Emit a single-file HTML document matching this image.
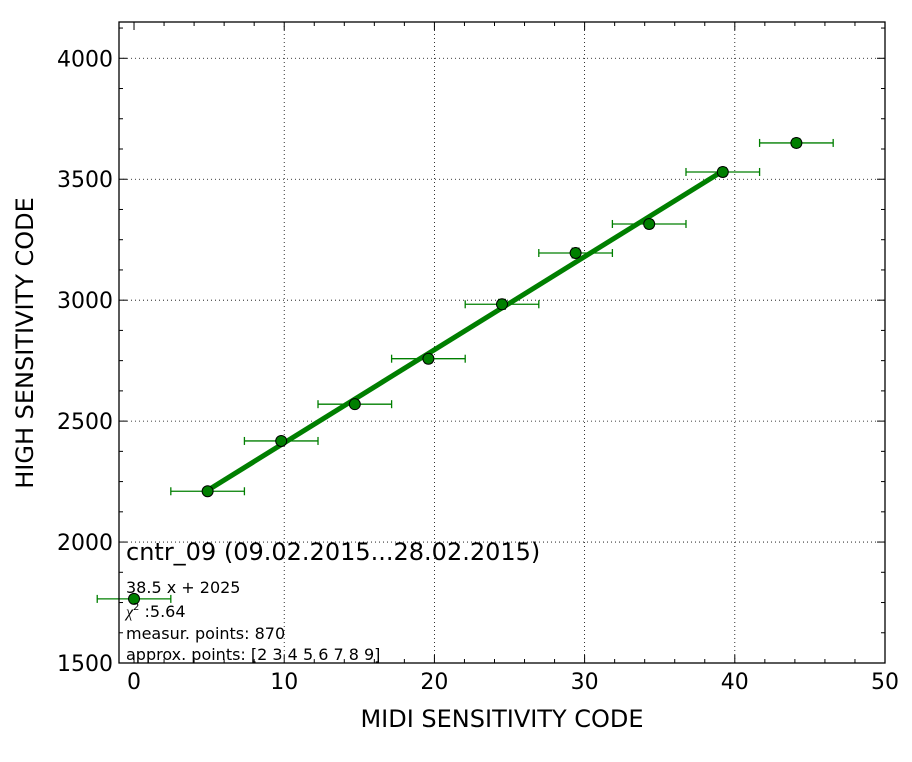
<!DOCTYPE html>
<html><head><meta charset="utf-8"><style>
body{margin:0;background:#fff;}
svg{display:block;font-family:"DejaVu Sans","Liberation Sans",sans-serif;}
</style></head><body>
<svg id="chart" width="912" height="762"></svg>
<script>
const xs=[0,4.9,9.8,14.7,19.6,24.5,29.4,34.3,39.2,44.1];
const ys=[1765,2210,2418,2570,2758,2983,3195,3315,3530,3650];
const xErr=[2.45,2.45,2.45,2.45,2.45,2.45,2.45,2.45,2.45,2.45];
const yErr=[15,15,15,15,18,20,20,18,18,18];
const fitSlope=38.5, fitIntercept=2025, fitRange=[4.9,39.2];
const xTicks=[0,10,20,30,40,50];
const yTicks=[1500,2000,2500,3000,3500,4000];
const L=119,R=885,T=22,B=663;
const X=v=>L+(v+1)/51*(R-L);
const Y=v=>B-(v-1500)/(4150-1500)*(B-T);
const svg=document.getElementById('chart');
const NS='http://www.w3.org/2000/svg';
function mk(tag,at,parent){const e=document.createElementNS(NS,tag);for(const k in at)e.setAttribute(k,at[k]);(parent||svg).appendChild(e);return e;}
// grid
for(const t of xTicks){if(t>0&&t<50){const g=mk('line',{x1:X(t),x2:X(t),y1:T,y2:B,stroke:'#000','stroke-dasharray':'1,3','stroke-width':0.8});

}}
for(const t of yTicks){if(t>1500){const g=mk('line',{x1:L,x2:R,y1:Y(t),y2:Y(t),stroke:'#000','stroke-dasharray':'1,3','stroke-width':0.8});

}}
// ticks
for(let v=0;v<=50;v+=2){const big=v%10===0,len=big?8:4;
mk('line',{x1:X(v),x2:X(v),y1:B,y2:B-len,stroke:'#000'});mk('line',{x1:X(v),x2:X(v),y1:T,y2:T+len,stroke:'#000'});}
for(let v=1500;v<=4125;v+=125){const big=v%500===0,len=big?8:4;
mk('line',{x1:L,x2:L+len,y1:Y(v),y2:Y(v),stroke:'#000'});mk('line',{x1:R,x2:R-len,y1:Y(v),y2:Y(v),stroke:'#000'});}
for(const t of xTicks){const e=mk('text',{x:X(t),y:B+26,'text-anchor':'middle','font-size':22});e.textContent=t;

}
for(const t of yTicks){const e=mk('text',{x:L-6,y:Y(t)+8,'text-anchor':'end','font-size':22});e.textContent=t;

}
// fit line
const fl=mk('line',{x1:X(fitRange[0]),y1:Y(fitSlope*fitRange[0]+fitIntercept),x2:X(fitRange[1]),y2:Y(fitSlope*fitRange[1]+fitIntercept),stroke:'#007f00','stroke-width':5});


// points
xs.forEach((x,i)=>{
 const g=mk('g',{});
 
 
 const cx=X(x),cy=Y(ys[i]),x0=X(x-xErr[i]),x1=X(x+xErr[i]),y0=Y(ys[i]-yErr[i]),y1=Y(ys[i]+yErr[i]);
 mk('line',{x1:x0,x2:x1,y1:cy,y2:cy,stroke:'#007f00','stroke-width':1.3},g);
 mk('line',{x1:x0,x2:x0,y1:cy-4,y2:cy+4,stroke:'#007f00','stroke-width':1.3},g);
 mk('line',{x1:x1,x2:x1,y1:cy-4,y2:cy+4,stroke:'#007f00','stroke-width':1.3},g);
 mk('line',{x1:cx,x2:cx,y1:y0,y2:y1,stroke:'#007f00','stroke-width':1.3},g);
 mk('line',{x1:cx-4,x2:cx+4,y1:y0,y2:y0,stroke:'#007f00','stroke-width':1.3},g);
 mk('line',{x1:cx-4,x2:cx+4,y1:y1,y2:y1,stroke:'#007f00','stroke-width':1.3},g);
 mk('circle',{cx:cx,cy:cy,r:5.5,fill:'#007f00',stroke:'#000','stroke-width':1},g);
});
// frame
const fr=mk('rect',{x:L,y:T,width:R-L,height:B-T,fill:'none',stroke:'#000','stroke-width':1.3});


</script>
<svg style="position:absolute;left:0;top:0" width="912" height="762">
<text x="126" y="560" font-size="24">cntr_09 (09.02.2015...28.02.2015)</text>
<text x="126" y="593" font-size="16">38.5 x + 2025</text>
<text x="126" y="617" font-size="16"><tspan font-style="italic" font-family="Liberation Serif">χ</tspan><tspan font-size="10" dy="-7">2</tspan><tspan dy="7"> :5.64</tspan></text>
<text x="126" y="639" font-size="16">measur. points: 870</text>
<text x="126" y="660" font-size="16">approx. points: [2 3 4 5 6 7 8 9]</text>
<text x="502" y="727" font-size="24" text-anchor="middle">MIDI SENSITIVITY CODE</text>
<text transform="translate(33,343) rotate(-90)" font-size="24" text-anchor="middle">HIGH SENSITIVITY CODE</text>
</svg>
</body></html>
